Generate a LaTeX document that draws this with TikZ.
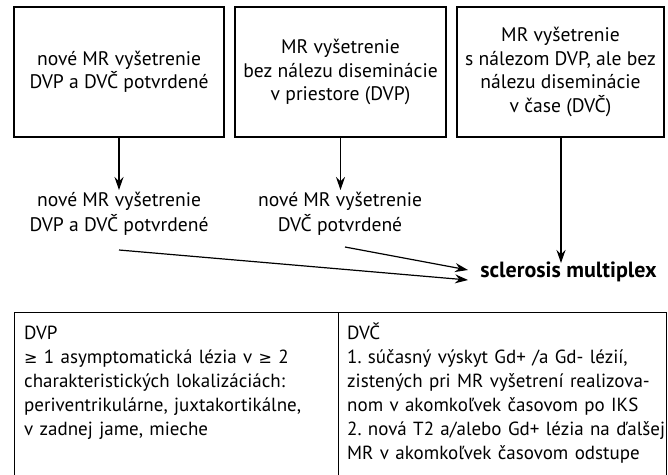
\documentclass[tikz,border=0pt]{standalone}
\usepackage{fontspec}
\setmainfont{PT Sans}
\newfontfamily\symf{DejaVu Sans}
\usetikzlibrary{arrows.meta}
\frenchspacing
\newcommand{\geqs}{{\symf\fontsize{16}{16}\selectfont ≥}}
\begin{document}
\begin{tikzpicture}[x=1pt,y=-1pt,
  box/.style={draw, line width=1.2pt, minimum height=130pt, inner sep=0pt, align=center,
     font=\fontsize{19.6}{23.5}\selectfont},
  lbl/.style={align=center, inner sep=0pt, font=\fontsize{19.6}{25}\selectfont},
  cell/.style={align=left, anchor=base west, inner sep=0pt, text width=318pt,
     font=\fontsize{19}{24}\selectfont},
  arr/.style={line width=1.2pt, -{Stealth[length=13pt,width=9pt]}},
  tline/.style={line width=1pt}]
\useasboundingbox (0,0) rectangle (668,474);
\node[box, minimum width=210pt] (b1) at (119,72) {nové MR vyšetrenie\\DVP a DVČ potvrdené};
\node[box, minimum width=211pt] (b2) at (340.5,72) {MR vyšetrenie\\bez nálezu diseminácie\\v priestore (DVP)};
\node[box, minimum width=207pt] (b3) at (560.5,72) {MR vyšetrenie\\s nálezom DVP, ale bez\\nálezu diseminácie\\v čase (DVČ)};
\node[lbl] (t1) at (119,214) {nové MR vyšetrenie\\DVP a DVČ potvrdené};
\node[lbl] (t2) at (340,214) {nové MR vyšetrenie\\DVČ potvrdené};
\node[inner sep=0pt, font=\fontsize{22}{24}\selectfont\bfseries] (sm) at (568.5,272) {sclerosis multiplex};
\coordinate (s1) at (119,250);
\coordinate (e1) at (468,280);
\coordinate (s2) at (345,247);
\coordinate (e2) at (468,270);
\draw[arr] (b1.south) -- (119,190);
\draw[arr] (b2.south) -- (340.5,190);
\draw[arr] (b3.south -| 561,0) -- (561,263);
\draw[arr] (s1) -- (e1);
\draw[arr] (s2) -- (e2);
\draw[tline] (14,480) -- (14,312) -- (666,312) -- (666,480);
\draw[tline] (338.5,312) -- (338.5,480);
\node[cell] (c1) at (24,339) {DVP\\\geqs{} 1 asymptomatická lézia v \geqs{} 2\\charakteristických lokalizáciách:\\periventrikulárne, juxtakortikálne,\\v zadnej jame, mieche};
\node[cell] (c2) at (347,339) {DVČ\\1. súčasný výskyt Gd+ /a Gd- lézií,\\zistených pri MR vyšetrení realizova-\\nom v akomkoľvek časovom po IKS\\2. nová T2 a/alebo Gd+ lézia na ďalšej\\MR v akomkoľvek časovom odstupe};
\end{tikzpicture}
\end{document}
